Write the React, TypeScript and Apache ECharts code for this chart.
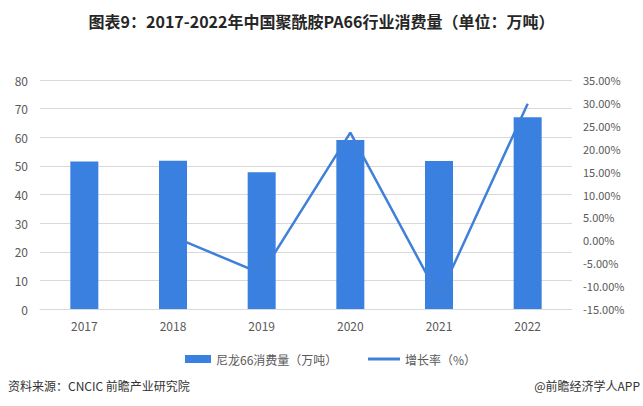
import React, { useEffect, useRef } from "react";
import * as echarts from "echarts";

const years = ["2017", "2018", "2019", "2020", "2021", "2022"];
const consumption = [51.5, 51.8, 47.8, 59.0, 51.7, 67.0];
const growth: (number | null)[] = [null, 0.8, -7.3, 23.5, -12.4, 29.8];
const leftTicks = { min: 0, max: 80, interval: 10 };
const rightTicks = { min: -15, max: 35, interval: 5 };

const TITLE = "图表9：2017-2022年中国聚酰胺PA66行业消费量（单位：万吨）";
const BAR_NAME = "尼龙66消费量（万吨）";
const LINE_NAME = "增长率（%）";
const SOURCE = "资料来源：CNCIC 前瞻产业研究院";
const BRAND = "@前瞻经济学人APP";

const FONT = '"Noto Sans CJK SC", "Noto Sans", sans-serif';

export default function App() {
  const ref = useRef<HTMLDivElement>(null);
  useEffect(() => {
    document.body.style.margin = "0";
    if (!ref.current) return;
    const chart = echarts.init(ref.current, undefined, { renderer: "svg" });
    const legendText = { fontSize: 12, color: "#595959", fontFamily: FONT };
    chart.setOption({
      animation: false,
      backgroundColor: "#ffffff",
      textStyle: { fontFamily: FONT },
      title: {
        text: TITLE,
        left: "center",
        top: 8,
        textStyle: { fontSize: 16, fontWeight: "bold", color: "#262626", fontFamily: FONT },
      },
      grid: { left: 40, right: 71, top: 80, bottom: 97 },
      legend: [
        {
          left: 180,
          top: 348,
          itemWidth: 26,
          itemHeight: 8,
          textStyle: legendText,
          data: [{ name: BAR_NAME, icon: "rect" }],
        },
        {
          left: 363,
          top: 348,
          itemWidth: 32,
          itemHeight: 3,
          textStyle: legendText,
          data: [{ name: LINE_NAME, icon: "rect" }],
        },
      ],
      xAxis: {
        type: "category",
        data: years,
        axisLine: { show: true, lineStyle: { color: "#d9d9d9" } },
        axisTick: { show: false },
        axisLabel: { color: "#595959", fontSize: 12, margin: 10 },
      },
      yAxis: [
        {
          type: "value",
          min: leftTicks.min,
          max: leftTicks.max,
          interval: leftTicks.interval,
          axisLine: { show: false },
          axisTick: { show: false },
          axisLabel: { color: "#595959", fontSize: 12, margin: 12 },
          splitLine: { lineStyle: { color: "#d9d9d9" } },
        },
        {
          type: "value",
          min: rightTicks.min,
          max: rightTicks.max,
          interval: rightTicks.interval,
          alignTicks: false,
          axisLine: { show: false },
          axisTick: { show: false },
          splitLine: { show: false },
          axisLabel: {
            color: "#595959",
            fontSize: 11,
            margin: 11,
            formatter: (v: number) => v.toFixed(2) + "%",
          },
        },
      ],
      series: [
        {
          name: BAR_NAME,
          type: "bar",
          data: consumption,
          barWidth: 28,
          itemStyle: { color: "#3a80e0" },
          z: 2,
        },
        {
          name: LINE_NAME,
          type: "line",
          yAxisIndex: 1,
          data: growth,
          symbol: "none",
          lineStyle: { color: "#4180d8", width: 2.5 },
          itemStyle: { color: "#4180d8" },
          z: 3,
        },
      ],
      graphic: [
        {
          type: "text",
          left: 8,
          top: 379,
          style: { text: SOURCE, fontSize: 12, fill: "#333333", fontFamily: FONT },
        },
        {
          type: "text",
          right: 3,
          top: 379,
          style: { text: BRAND, fontSize: 12, fill: "#333333", fontFamily: FONT },
        },
      ],
    });
    return () => chart.dispose();
  }, []);
  return <div ref={ref} style={{ width: 643, height: 406 }} />;
}
